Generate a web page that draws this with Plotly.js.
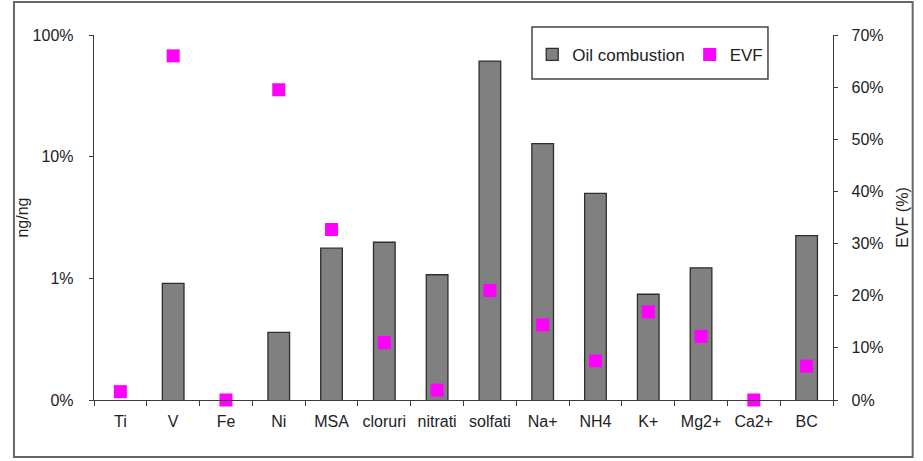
<!DOCTYPE html>
<html>
<head>
<meta charset="utf-8">
<script src="https://cdn.plot.ly/plotly-3.0.1.min.js"></script>
<style>
  html, body { margin: 0; padding: 0; background: #ffffff; }
  #chart { width: 923px; height: 461px; }
</style>
</head>
<body>
<div id="chart"></div>
<script>
// Species measured in the samples
const categories = ['Ti', 'V', 'Fe', 'Ni', 'MSA', 'cloruri', 'nitrati', 'solfati',
                    'Na+', 'NH4', 'K+', 'Mg2+', 'Ca2+', 'BC'];

// Oil combustion source profile (ng/ng, as a fraction); null where no contribution
const oilCombustion = [null, 0.0091, null, 0.0036, 0.0177, 0.0198, 0.0107, 0.61,
                       0.128, 0.050, 0.0074, 0.0122, null, 0.0224];

// Explained variation fraction (fraction of 1)
const evf = [0.016, 0.66, 0.0, 0.595, 0.327, 0.110, 0.019, 0.210,
             0.144, 0.075, 0.169, 0.122, 0.0, 0.065];

// Left log-axis ticks and their labels
const logTickVals = [0.001, 0.01, 0.1, 1];
const logTickText = ['0%', '1%', '10%', '100%'];

const FONT = 'Liberation Sans, Arial, sans-serif';
const AXIS_COLOR = '#3a3a3a';

const traces = [
  {
    type: 'bar',
    name: 'Oil combustion',
    x: categories,
    y: oilCombustion,
    marker: { color: '#808080', line: { color: '#2e2e2e', width: 1.3 } },
    yaxis: 'y',
    hoverinfo: 'x+y'
  },
  {
    type: 'scatter',
    mode: 'markers',
    name: 'EVF',
    x: categories,
    y: evf,
    yaxis: 'y2',
    cliponaxis: false,
    marker: { symbol: 'square', size: 13, color: '#ff00ff', line: { width: 0 } },
    hoverinfo: 'x+y'
  }
];

const layout = {
  width: 923,
  height: 461,
  margin: { l: 94, r: 90, t: 35, b: 61 },
  paper_bgcolor: '#ffffff',
  plot_bgcolor: '#ffffff',
  font: { family: FONT, size: 16, color: '#222222' },
  bargap: 0.59,
  showlegend: true,
  legend: {
    orientation: 'h',
    x: 0.593, xanchor: 'left',
    y: 0.995, yanchor: 'top',
    bgcolor: 'rgba(0,0,0,0)',
    borderwidth: 0,
    font: { family: FONT, size: 17, color: '#222222' },
    itemclick: false
  },
  xaxis: {
    type: 'category',
    range: [-0.5, categories.length - 0.5],
    tickson: 'boundaries',
    tickangle: 0,
    ticks: 'outside',
    ticklen: 5,
    tickcolor: AXIS_COLOR,
    showline: true,
    linecolor: AXIS_COLOR,
    linewidth: 1.3,
    showgrid: false,
    zeroline: false,
    tickfont: { family: FONT, size: 16, color: '#222222' },
    ticklabelstandoff: 6
  },
  yaxis: {
    type: 'log',
    range: [-3, 0],
    tickvals: logTickVals,
    ticktext: logTickText,
    ticks: 'outside',
    ticklen: 4,
    tickcolor: AXIS_COLOR,
    showline: true,
    linecolor: AXIS_COLOR,
    linewidth: 1.3,
    showgrid: false,
    zeroline: false,
    ticklabelstandoff: 12,
    tickfont: { family: FONT, size: 16, color: '#222222' },
    title: { text: 'ng/ng', font: { family: FONT, size: 16, color: '#222222' }, standoff: 0 }
  },
  yaxis2: {
    overlaying: 'y',
    side: 'right',
    range: [0, 0.7],
    dtick: 0.1,
    tickformat: '.0%',
    ticks: 'outside',
    ticklen: 4,
    tickcolor: AXIS_COLOR,
    showline: true,
    linecolor: AXIS_COLOR,
    linewidth: 1.3,
    showgrid: false,
    zeroline: false,
    ticklabelstandoff: 10,
    tickfont: { family: FONT, size: 16, color: '#222222' },
    title: { text: 'EVF (%)', font: { family: FONT, size: 16, color: '#222222' }, standoff: 14 }
  },
  shapes: [
    // outer chart frame
    { type: 'rect', xref: 'paper', yref: 'paper',
      x0: -0.1083, x1: 1.1078, y0: -0.156, y1: 1.0904,
      line: { color: '#666666', width: 2 }, fillcolor: 'rgba(0,0,0,0)', layer: 'below' },
    // legend box
    { type: 'rect', xref: 'paper', yref: 'paper',
      x0: 0.5927, x1: 0.912, y0: 0.8795, y1: 1.0219,
      line: { color: '#444444', width: 1.5 }, fillcolor: '#ffffff', layer: 'below' },
    // strip below the frame
    { type: 'rect', xref: 'paper', yref: 'paper',
      x0: -0.1001, x1: 0.0690, y0: -0.167, y1: -0.175,
      line: { width: 0 }, fillcolor: '#1f3f8f', layer: 'below' }
  ]
};

Plotly.newPlot('chart', traces, layout, { displayModeBar: false, staticPlot: true });
</script>
</body>
</html>
